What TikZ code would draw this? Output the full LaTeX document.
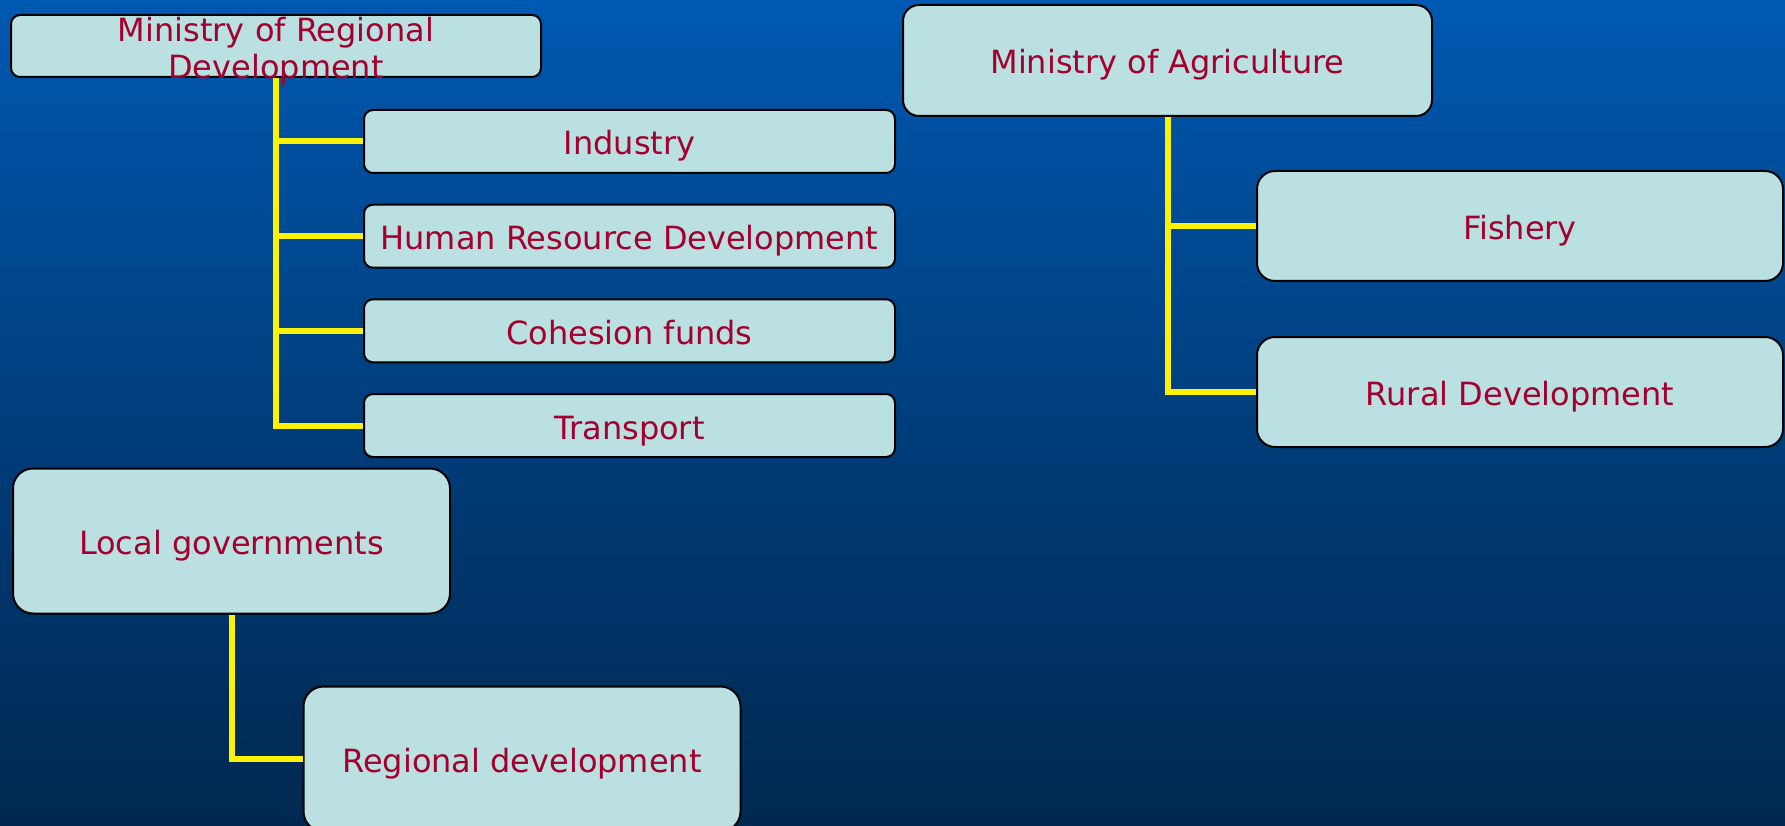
\documentclass[tikz,border=0pt]{standalone}
\usepackage{fontspec}
\setmainfont{DejaVu Sans}
\definecolor{bgtop}{RGB}{0,89,178}
\definecolor{bgbot}{RGB}{0,40,80}
\definecolor{boxfill}{RGB}{186,224,226}
\definecolor{boxtext}{RGB}{163,0,45}
\usetikzlibrary{positioning}

\begin{document}
\begin{tikzpicture}[x=1pt, y=-1pt,
		box/.style={draw=black, line width=2pt, fill=boxfill, rounded corners=9pt, inner sep=0pt,
			text=boxtext, font=\fontsize{32}{37}\selectfont, text height=34pt, text depth=7pt},
		bigbox/.style={box, rounded corners=20pt, minimum width=437pt, minimum height=145pt},
		sub/.style={box, minimum width=531pt, minimum height=63pt},
		conn/.style={yellow, line width=6pt}]
		\useasboundingbox (0,0) rectangle (1785,826);
		% background
		\shade[top color=bgtop, bottom color=bgbot, middle color={rgb,255:red,0;green,62;blue,124}] (0,0) rectangle (1785,826);

		% boxes
		\node[box, minimum width=530pt, minimum height=62pt] (mrd) at (276,46) {};
		\node[text=boxtext, font=\fontsize{32}{37}\selectfont, align=center] at (276,51) {Ministry of Regional\\Development};
		\node[sub] (industry) at (629.5,141.5) {Industry};
		\node[sub] (hrd) at (629.5,236.2) {Human Resource Development};
		\node[sub] (cohesion) at (629.5,330.8) {Cohesion funds};
		\node[sub] (transport) at (629.5,425.5) {Transport};

		\node[box, rounded corners=16pt, minimum width=529pt, minimum height=111pt] (moa) at (1167.5,60.5) {Ministry of Agriculture};
		\node[box, rounded corners=18pt, minimum width=526pt, minimum height=110pt] (fishery) at (1520,226) {Fishery};
		\node[box, rounded corners=18pt, minimum width=526pt, minimum height=110pt] (rural) at (1520,392) {Rural Development};

		\node[bigbox] (local) at (231.5,541) {Local governments};
		\node[bigbox] (regdev) at (522,759) {Regional development};

		% connectors
		\draw[conn] (mrd.south) |- (transport.west);
		\foreach \n in {industry,hrd,cohesion}
			\draw[conn] (mrd.south |- \n.west) -- (\n.west);
		\draw[conn] (moa.south) |- (rural.west);
		\draw[conn] (moa.south |- fishery.west) -- (fishery.west);
		\draw[conn] (local.south) |- (regdev.west);
	\end{tikzpicture}
\end{document}
